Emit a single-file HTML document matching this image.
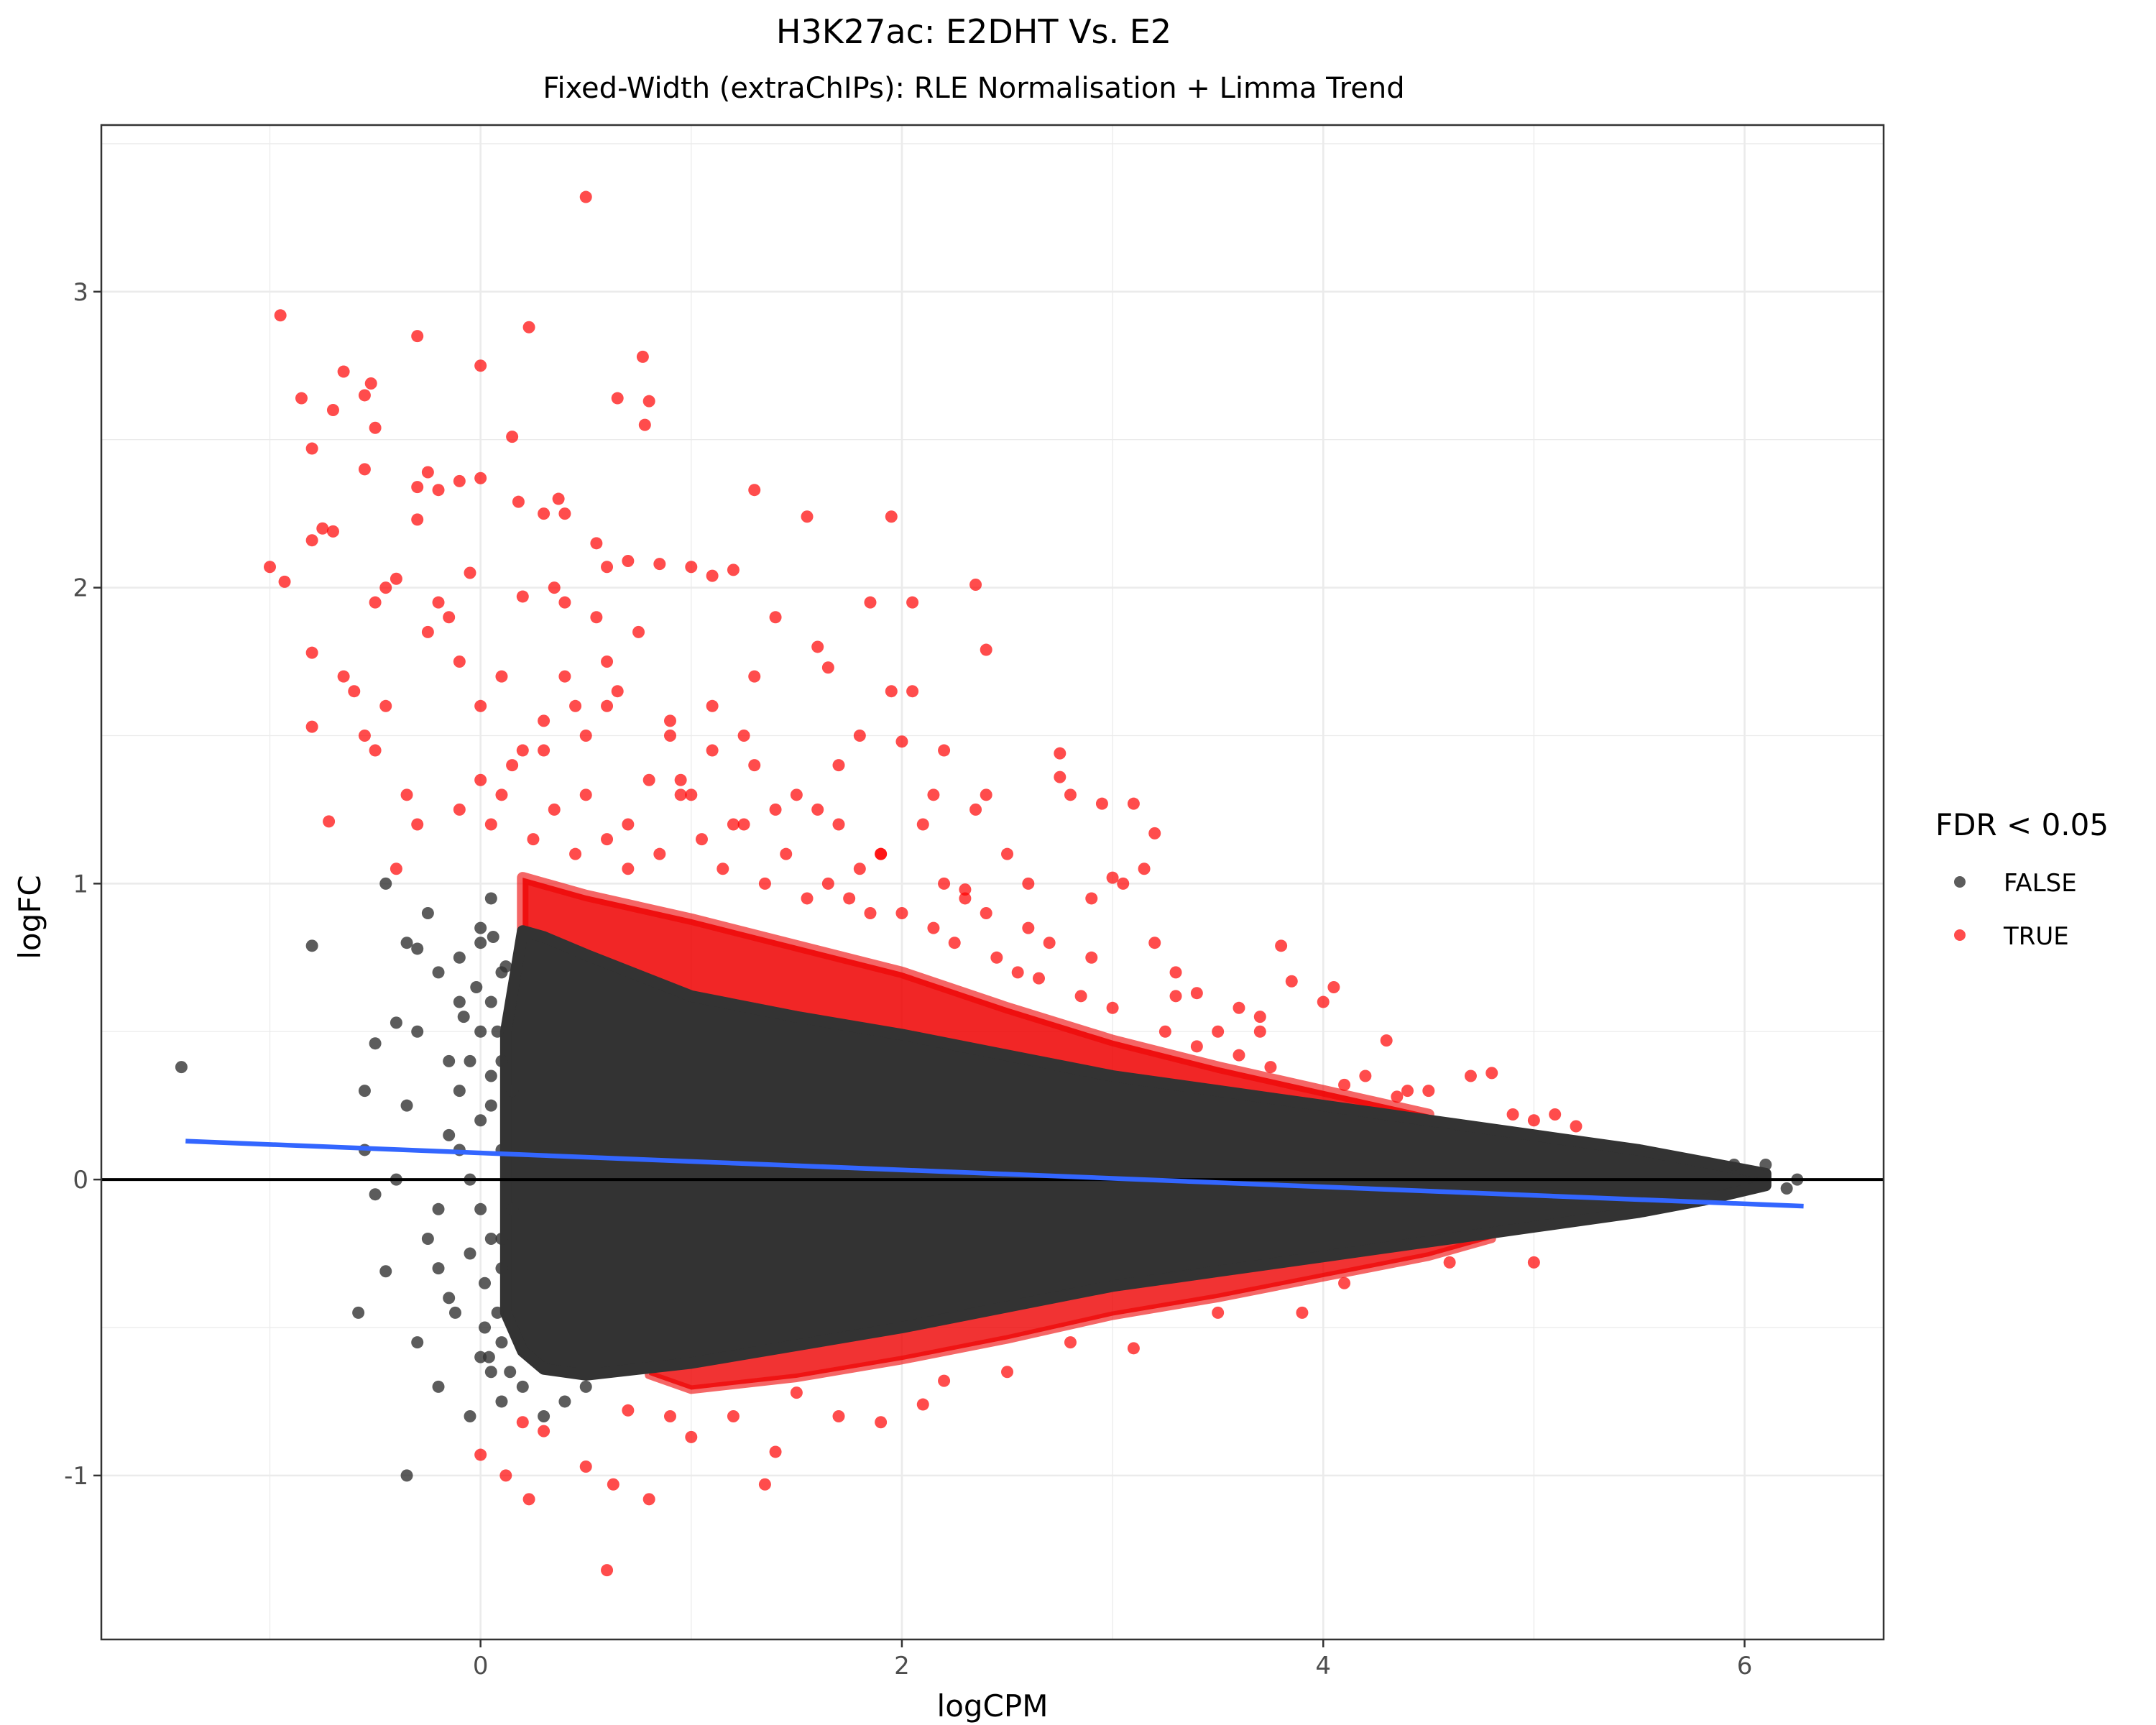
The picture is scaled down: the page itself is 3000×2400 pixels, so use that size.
<!DOCTYPE html>
<html><head><meta charset="utf-8">
<style>
html,body{margin:0;padding:0;background:#fff;}
svg{display:block;font-family:"DejaVu Sans","Liberation Sans",sans-serif;}
</style></head>
<body>
<svg id="chart" width="3000" height="2400" viewBox="0 0 3000 2400" xmlns="http://www.w3.org/2000/svg">
<rect x="0" y="0" width="3000" height="2400" fill="#fff"/>
<text x="1355" y="60" font-size="46" text-anchor="middle" fill="#000">H3K27ac: E2DHT Vs. E2</text>
<text x="1355" y="136" font-size="40" text-anchor="middle" fill="#000">Fixed-Width (extraChIPs): RLE Normalisation + Limma Trend</text>
<g id="grid"></g>
<g id="marks"></g>
<rect x="141" y="174" width="2480" height="2107" fill="none" stroke="#333" stroke-width="2.5"/>
<g id="axes"></g>
<text x="1381" y="2388" font-size="42" text-anchor="middle" fill="#000">logCPM</text>
<text transform="translate(56,1276) rotate(-90)" font-size="42" text-anchor="middle" fill="#000">logFC</text>
<g>
<text x="2693" y="1162" font-size="42" fill="#000">FDR &lt; 0.05</text>
<circle cx="2727" cy="1227" r="8" fill="#333" fill-opacity="0.8"/>
<text x="2788" y="1240" font-size="34" fill="#000">FALSE</text>
<circle cx="2727" cy="1301" r="8" fill="#f00" fill-opacity="0.7"/>
<text x="2788" y="1314" font-size="34" fill="#000">TRUE</text>
</g>
</svg>
<script>
const xTicks=[0,2,4,6];
const yTicks=[-1,0,1,2,3];
const xMinor=[-1,1,3,5];
const yMinor=[-0.5,0.5,1.5,2.5,3.5];
// dense cloud envelope (logCPM, upper logFC, lower logFC)
const envX=[0.12,0.2,0.3,0.5,1,1.5,2,2.5,3,3.5,4,4.5,5,5.5,5.8,6.1];
const envUp=[0.5,0.84,0.82,0.76,0.62,0.55,0.49,0.42,0.35,0.3,0.25,0.2,0.15,0.1,0.06,0.02];
const envLo=[-0.45,-0.58,-0.64,-0.66,-0.62,-0.56,-0.5,-0.43,-0.36,-0.31,-0.26,-0.21,-0.16,-0.11,-0.07,-0.02];
// dense red band just above the cloud
const redBandX=[0.2,0.5,1,1.5,2,2.5,3,3.5,4,4.5];
const redBandTop=[1.02,0.96,0.88,0.79,0.7,0.58,0.47,0.38,0.3,0.22];
const redBandLoX=[0.8,1,1.5,2,2.5,3,3.5,4,4.5,4.8];
const redBandLoBot=[-0.66,-0.71,-0.67,-0.61,-0.54,-0.46,-0.4,-0.33,-0.26,-0.2];
const redX=[-0.95,-0.8,-1.0,-0.93,-0.85,-0.65,-0.7,-0.55,-0.52,-0.5,-0.75,-0.7,-0.8,-0.55,-0.3,-0.3,-0.25,-0.2,-0.3,0,0.15,0.23,0,-0.1,-0.5,-0.45,-0.4,-0.8,-0.8,-0.72,-0.65,-0.6,-0.55,-0.5,-0.45,-0.35,-0.4,-0.3,-0.25,-0.2,-0.15,-0.1,-0.05,0,0.1,0.18,0.3,0.37,0.4,0.5,0.55,0.65,0.77,0.8,0.78,1.3,1.55,1.95,2.35,2.4,2.05,1.85,1.4,1.2,1.0,0.85,0.7,1.1,0.6,0.4,0.2,0.35,0.75,0.55,0.6,1.3,1.6,1.65,1.95,2.05,2.0,1.8,2.2,2.35,2.4,2.75,2.75,2.8,2.95,3.1,3.2,3.15,3.0,3.05,2.9,3.8,3.3,3.4,3.6,3.7,4.0,4.05,3.85,4.3,4.5,4.7,4.8,5.0,5.1,2.5,2.6,2.3,1.9,1.5,1.1,0.9,0.6,0.3,0.15,0.0,-0.1,0.05,0.5,0.7,1.2,1.7,2.1,2.7,3.2,3.5,4.2,0,0.12,0.23,0.6,0.63,0.8,1.35,1.4,0.5,0.3,0.2,0.9,1.0,1.2,1.7,1.9,2.1,2.5,3.1,3.5,3.9,4.1,4.6,5.0,2.8,2.2,0.7,1.5,
0.25,0.35,0.45,0.6,0.7,0.85,0.95,1.05,1.15,1.25,1.35,1.45,1.55,1.65,1.75,1.85,2.0,2.15,2.25,2.45,2.55,2.65,2.85,3.0,3.25,3.4,3.6,3.75,4.1,4.35,0.3,0.5,0.8,1.0,1.3,1.6,1.9,2.2,2.4,2.6,0.45,0.9,1.25,1.7,2.15,0.1,0.2,0.4,0.65,0.95,1.1,1.4,1.8,2.3,2.9,3.3,3.7,4.4,4.9,5.2];
const redY=[2.92,2.47,2.07,2.02,2.64,2.73,2.6,2.65,2.69,2.54,2.2,2.19,2.16,2.4,2.85,2.34,2.39,2.33,2.23,2.75,2.51,2.88,2.37,2.36,1.95,2.0,2.03,1.78,1.53,1.21,1.7,1.65,1.5,1.45,1.6,1.3,1.05,1.2,1.85,1.95,1.9,1.75,2.05,1.6,1.7,2.29,2.25,2.3,2.25,3.32,2.15,2.64,2.78,2.63,2.55,2.33,2.24,2.24,2.01,1.79,1.95,1.95,1.9,2.06,2.07,2.08,2.09,2.04,2.07,1.95,1.97,2.0,1.85,1.9,1.75,1.7,1.8,1.73,1.65,1.65,1.48,1.5,1.45,1.25,1.3,1.44,1.36,1.3,1.27,1.27,1.17,1.05,1.02,1.0,0.95,0.79,0.7,0.63,0.58,0.5,0.6,0.65,0.67,0.47,0.3,0.35,0.36,0.2,0.22,1.1,1.0,0.98,1.1,1.3,1.45,1.5,1.6,1.55,1.4,1.35,1.25,1.2,1.3,1.2,1.2,1.2,1.2,0.8,0.8,0.5,0.35,-0.93,-1.0,-1.08,-1.32,-1.03,-1.08,-1.03,-0.92,-0.97,-0.85,-0.82,-0.8,-0.87,-0.8,-0.8,-0.82,-0.76,-0.65,-0.57,-0.45,-0.45,-0.35,-0.28,-0.28,-0.55,-0.68,-0.78,-0.72,
1.15,1.25,1.1,1.15,1.05,1.1,1.3,1.15,1.05,1.2,1.0,1.1,0.95,1.0,0.95,0.9,0.9,0.85,0.8,0.75,0.7,0.68,0.62,0.58,0.5,0.45,0.42,0.38,0.32,0.28,1.45,1.5,1.35,1.3,1.4,1.25,1.1,1.0,0.9,0.85,1.6,1.55,1.5,1.4,1.3,1.3,1.45,1.7,1.65,1.35,1.6,1.25,1.05,0.95,0.75,0.62,0.55,0.3,0.22,0.18];
const blackX=[-1.42,-0.8,-0.55,-0.5,-0.55,-0.45,-0.58,-0.35,-0.4,-0.35,-0.3,-0.45,-0.2,-0.15,-0.25,-0.3,-0.2,-0.05,0,-0.1,-0.35,-0.4,-0.5,-0.3,-0.2,0.05,0.1,0.3,6.25,6.1,5.95,6.2,-0.25,-0.1,0.0,-0.15,0.05,0.2,0.4,0.5,
-0.05,0,0.05,0.1,-0.1,0,0.05,0.1,-0.05,0,0.05,0.1,-0.15,-0.05,0.02,0.08,-0.2,-0.1,0,0.08,0.05,0.1,-0.02,0.06,-0.12,0.02,0.1,-0.08,0.04,0.1,0.15,0.15,0.12,0.14];
const blackY=[0.38,0.79,0.1,0.46,0.3,-0.31,-0.45,-1.0,0.53,0.8,0.78,1.0,0.7,0.4,-0.2,-0.55,-0.7,-0.8,-0.6,0.6,0.25,0,-0.05,0.5,-0.3,0.95,-0.75,-0.8,0,0.05,0.05,-0.03,0.9,0.75,0.85,-0.4,-0.65,-0.7,-0.75,-0.7,
0.4,0.5,0.6,0.7,0.3,0.2,0.35,0.1,0,-0.1,-0.2,-0.3,0.15,-0.25,-0.35,-0.45,-0.1,0.1,0.8,0.5,0.25,-0.55,0.65,0.82,-0.45,-0.5,0.4,0.55,-0.6,-0.2,0.3,-0.1,0.72,-0.65];
const trendX=[-1.4,6.28];
const trendY=[0.13,-0.09];

const NS='http://www.w3.org/2000/svg';
const L=141,R=2621,T=174,B=2281;
const xMin=-1.80,xMax=6.66,yMin=-1.554,yMax=3.563;
const sx=v=>L+(v-xMin)/(xMax-xMin)*(R-L);
const sy=v=>B-(v-yMin)/(yMax-yMin)*(B-T);
function mk(tag,attrs,parent){const e=document.createElementNS(NS,tag);for(const k in attrs)e.setAttribute(k,attrs[k]);parent.appendChild(e);return e;}
function interp(xs,ys,x){let k=0;while(k<xs.length-2&&xs[k+1]<x)k++;const f=(x-xs[k])/(xs[k+1]-xs[k]);return ys[k]+f*(ys[k+1]-ys[k]);}
const grid=document.getElementById('grid'),marks=document.getElementById('marks'),axes=document.getElementById('axes');
xMinor.forEach(v=>{const e=mk('line',{x1:sx(v),x2:sx(v),y1:T,y2:B,stroke:'#ebebeb','stroke-width':1.3},grid);

});
yMinor.forEach(v=>{const e=mk('line',{x1:L,x2:R,y1:sy(v),y2:sy(v),stroke:'#ebebeb','stroke-width':1.3},grid);

});
xTicks.forEach(v=>{const e=mk('line',{x1:sx(v),x2:sx(v),y1:T,y2:B,stroke:'#ebebeb','stroke-width':2.6},grid);


const t=mk('line',{x1:sx(v),x2:sx(v),y1:B,y2:B+11,stroke:'#333','stroke-width':2.5},axes);


const l=mk('text',{x:sx(v),y:B+48,'font-size':34,'text-anchor':'middle',fill:'#4d4d4d'},axes);l.textContent=String(v);

});
yTicks.forEach(v=>{const e=mk('line',{x1:L,x2:R,y1:sy(v),y2:sy(v),stroke:'#ebebeb','stroke-width':2.6},grid);


const t=mk('line',{x1:L-11,x2:L,y1:sy(v),y2:sy(v),stroke:'#333','stroke-width':2.5},axes);


const l=mk('text',{x:L-18,y:sy(v)+12,'font-size':34,'text-anchor':'end',fill:'#4d4d4d'},axes);l.textContent=String(v);

});
// red band upper
let d='';redBandX.forEach((x,i)=>{d+=(i?'L':'M')+sx(x)+','+sy(redBandTop[i]);});
for(let i=redBandX.length-1;i>=0;i--){const x=redBandX[i];d+='L'+sx(x)+','+sy(interp(envX,envUp,x)-0.05);}
const rb=mk('path',{d:d+'Z',fill:'#ee0000','fill-opacity':0.85,stroke:'#ee0000','stroke-width':16,'stroke-linejoin':'round','stroke-opacity':0.6},marks);


d='';redBandLoX.forEach((x,i)=>{d+=(i?'L':'M')+sx(x)+','+sy(redBandLoBot[i]);});
for(let i=redBandLoX.length-1;i>=0;i--){const x=redBandLoX[i];d+='L'+sx(x)+','+sy(interp(envX,envLo,x)+0.05);}
const rb2=mk('path',{d:d+'Z',fill:'#ee0000','fill-opacity':0.8,stroke:'#ee0000','stroke-width':12,'stroke-linejoin':'round','stroke-opacity':0.6},marks);


redX.forEach((x,i)=>{const c=mk('circle',{cx:sx(x),cy:sy(redY[i]),r:8.5,fill:'#f00','fill-opacity':0.7},marks);

});
// dense cloud
d='';envX.forEach((x,i)=>{d+=(i?'L':'M')+sx(x)+','+sy(envUp[i]);});
for(let i=envX.length-1;i>=0;i--)d+='L'+sx(envX[i])+','+sy(envLo[i]);
const cl=mk('path',{d:d+'Z',fill:'#333',stroke:'#333','stroke-width':16,'stroke-linejoin':'round'},marks);


blackX.forEach((x,i)=>{const c=mk('circle',{cx:sx(x),cy:sy(blackY[i]),r:8.5,fill:'#333','fill-opacity':0.8},marks);

});
const hz=mk('line',{x1:L,x2:R,y1:sy(0),y2:sy(0),stroke:'#000','stroke-width':4},marks);


const tr=mk('line',{x1:sx(trendX[0]),y1:sy(trendY[0]),x2:sx(trendX[1]),y2:sy(trendY[1]),stroke:'#3366ff','stroke-width':6.5},marks);


</script>
</body></html>
